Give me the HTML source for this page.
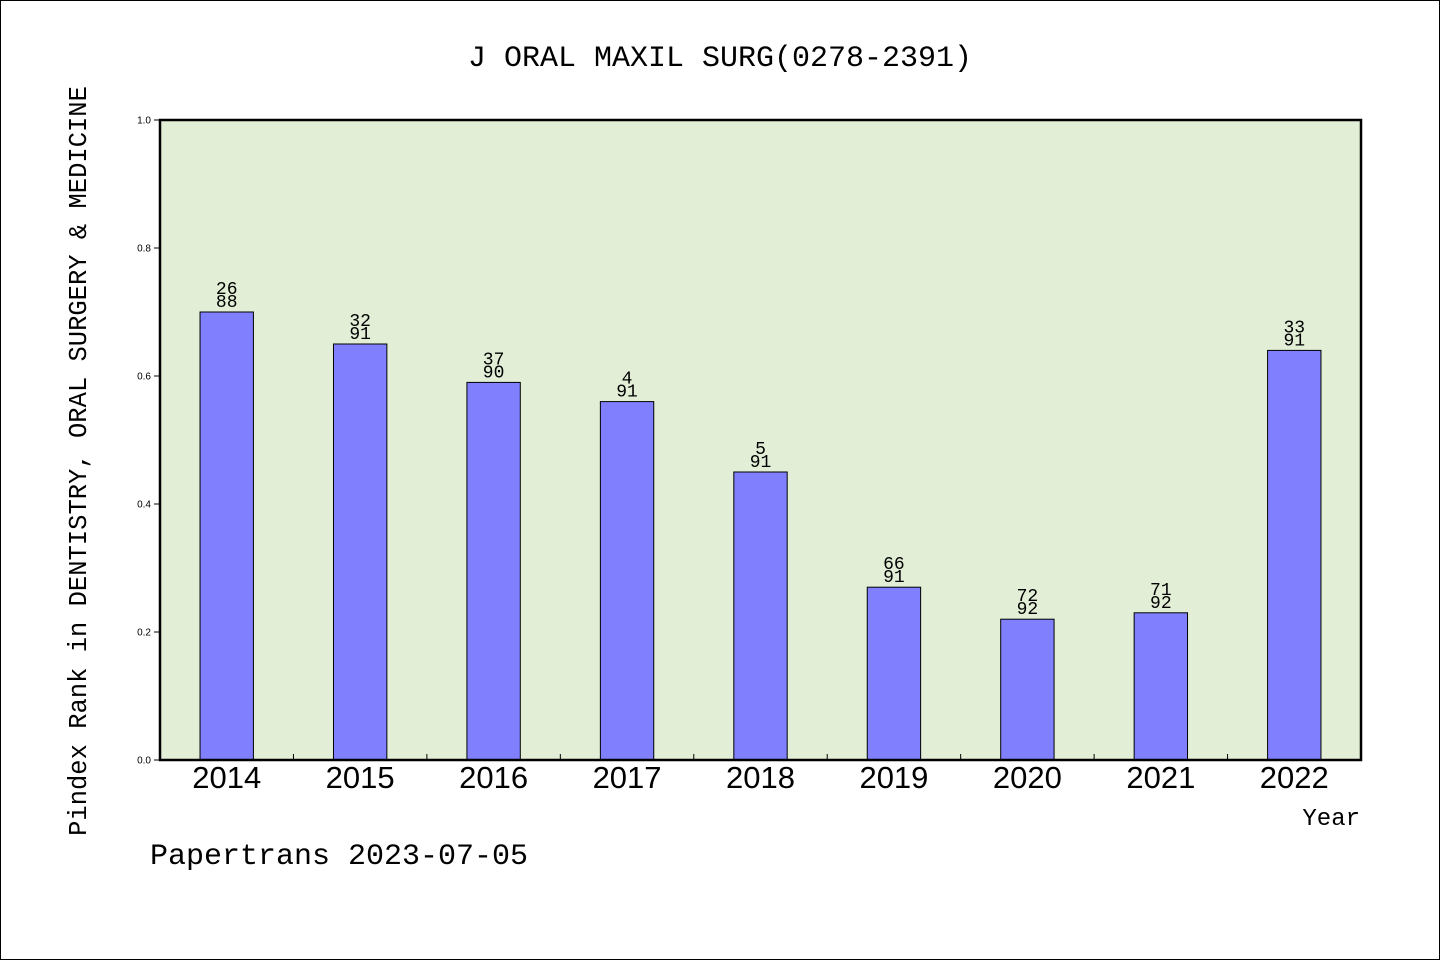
<!DOCTYPE html>
<html><head><meta charset="utf-8"><style>
html,body{margin:0;padding:0;background:#fff}
svg{display:block}
text{font-family:"Liberation Mono","DejaVu Sans Mono",monospace;fill:#000}
</style></head><body>
<svg id="chart" width="1440" height="960" viewBox="0 0 1440 960" xmlns="http://www.w3.org/2000/svg">
<rect x="0.5" y="0.5" width="1439" height="959" fill="#fff" stroke="#000"/>
<text x="720" y="66" text-anchor="middle" font-size="30">J ORAL MAXIL SURG(0278-2391)</text>
<rect x="160" y="120" width="1201" height="640" fill="#e2efd6"/>
<g id="bars"></g>
<g id="axes"></g>
<rect x="160" y="120" width="1201" height="640" fill="none" stroke="#000" stroke-width="2.5"/>
<text transform="translate(86,461) rotate(-90)" text-anchor="middle" font-size="25.5">Pindex Rank in DENTISTRY, ORAL SURGERY &amp; MEDICINE</text>
<text x="1360" y="825" text-anchor="end" font-size="24">Year</text>
<text x="150" y="864" font-size="30">Papertrans 2023-07-05</text>
</svg>
<script>
const categories = ["2014","2015","2016","2017","2018","2019","2020","2021","2022"];
const values = [0.70,0.65,0.59,0.56,0.45,0.27,0.22,0.23,0.64];
const ranks = ["26","32","37","4","5","66","72","71","33"];
const totals = ["88","91","90","91","91","91","92","92","91"];
const yTicks = ["0.0","0.2","0.4","0.6","0.8","1.0"];

const NS="http://www.w3.org/2000/svg";
const x0=160,x1=1361,yTop=120,yBot=760;
const band=(x1-x0)/categories.length;
function xCenter(i){return x0+band*(i+0.5);}
function yScale(v){return yBot-(yBot-yTop)*v;}
function mk(tag,attrs,parent,txt){const e=document.createElementNS(NS,tag);for(const k in attrs)e.setAttribute(k,attrs[k]);if(txt!==undefined)e.textContent=txt;parent.appendChild(e);return e;}
const bars=document.getElementById('bars'),axes=document.getElementById('axes');
const bw=band*0.4;
categories.forEach((c,i)=>{
  const cx=xCenter(i),y=yScale(values[i]);
  const r=mk('rect',{x:cx-bw/2,y:y,width:bw,height:yBot-y,fill:'#8080ff',stroke:'#000','stroke-width':1},bars);
  
  
  const t1=mk('text',{x:cx,y:y-18,'text-anchor':'middle','font-size':18},bars,ranks[i]);
  
  
  const t2=mk('text',{x:cx,y:y-5,'text-anchor':'middle','font-size':18},bars,totals[i]);
  
  
  const xl=mk('text',{x:cx,y:788,'text-anchor':'middle','font-size':31,style:'font-family:"Liberation Sans",sans-serif'},axes,c);
  
  
  if(i>0){const tk=mk('line',{x1:x0+band*i,x2:x0+band*i,y1:yBot,y2:yBot-6,stroke:'#000'},axes);
    
    }
});
yTicks.forEach(t=>{
  const y=yScale(parseFloat(t));
  const l=mk('line',{x1:154,x2:160,y1:y,y2:y,stroke:'#000'},axes);
  
  
  const tl=mk('text',{x:151,y:y+3.5,'text-anchor':'end','font-size':10,style:'font-family:"Liberation Sans",sans-serif'},axes,t);
  
  
});
</script>
</body></html>
